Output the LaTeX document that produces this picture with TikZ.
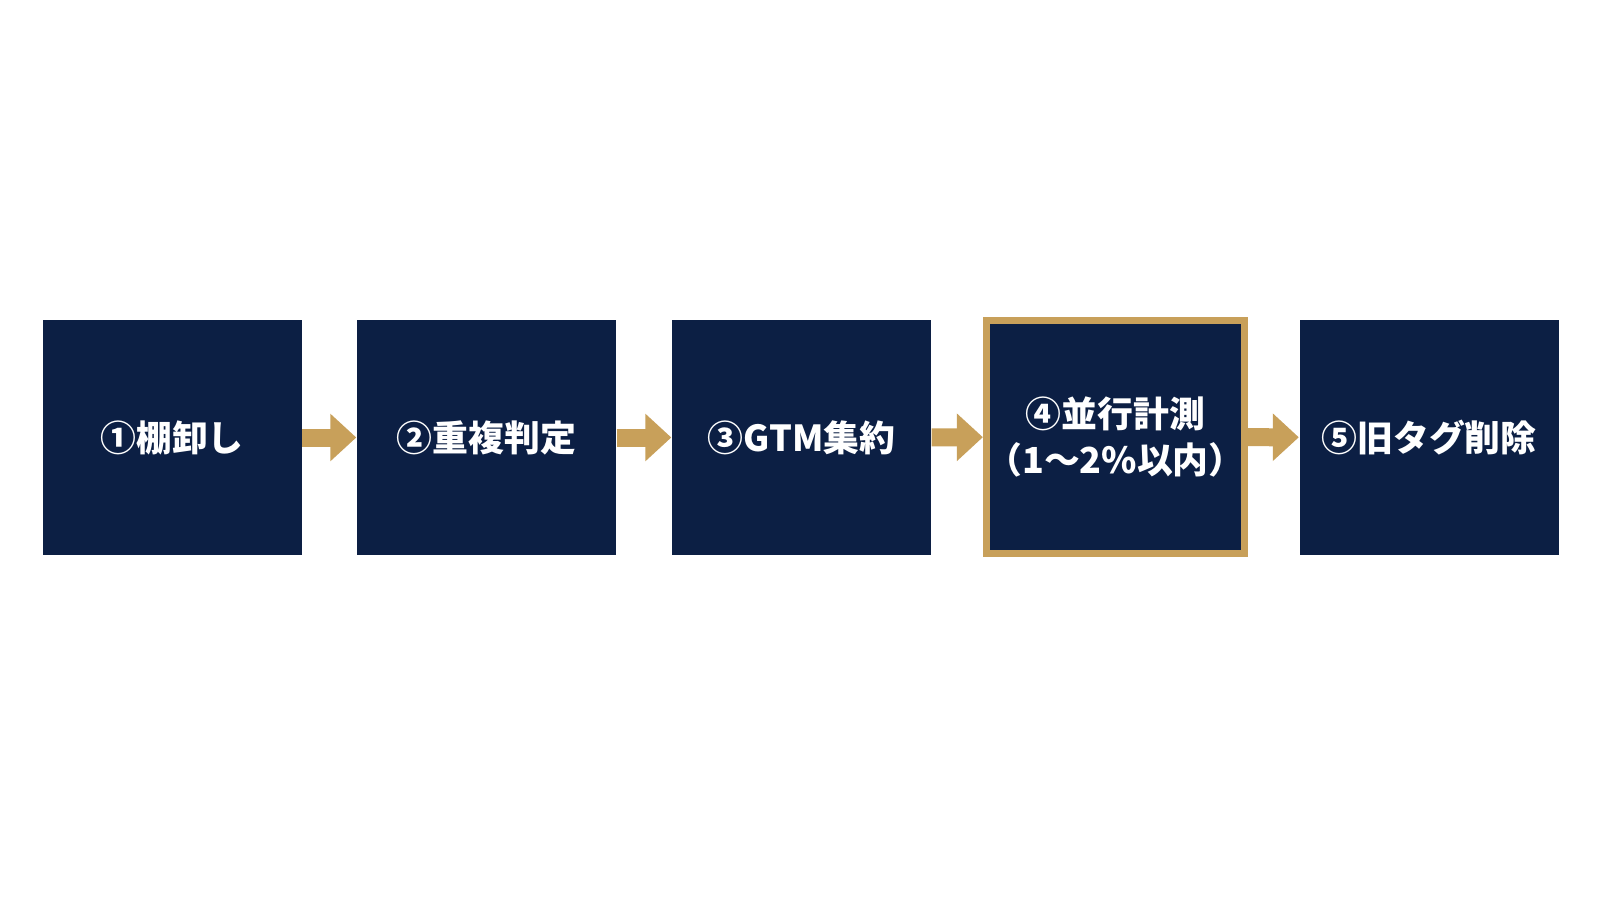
\documentclass[tikz,border=0pt]{standalone}
\usepackage{fontspec}
\setmainfont{Noto Sans CJK JP}
\usepackage{tikz}
\usetikzlibrary{arrows.meta}
\definecolor{navy}{HTML}{0C1F44}
\definecolor{gold}{HTML}{C8A05A}
\tikzset{
  stepbox/.style={fill=navy, text=white, minimum width=2.59cm, minimum height=2.35cm,
    inner sep=0pt, align=center, font=\fontsize{10.2pt}{13.1pt}\selectfont\bfseries},
  keybox/.style={stepbox, draw=gold, line width=0.07cm, minimum width=2.58cm, minimum height=2.33cm},
  flow/.style={gold, line width=0.18cm, -{Triangle[length=0.26cm,width=0.46cm]}}
}

\begin{document}
\begin{tikzpicture}
      \useasboundingbox (0,0) rectangle (16,9);
      \fill[white] (0,0) rectangle (16,9);
      \node[stepbox] (inv) at (1.72,4.625) {①棚卸し};
      \node[stepbox] (dup) at (4.865,4.625) {②重複判定};
      \node[stepbox] (gtm) at (8.015,4.625) {③GTM集約};
      \node[keybox] (par) at (11.155,4.63) {④並行計測\\（1～2\%以内）};
      \node[stepbox] (old) at (14.29,4.625) {⑤旧タグ削除};
      \draw[flow] (inv) -- (dup);
      \draw[flow] (dup) -- (gtm);
      \draw[flow] (gtm) -- (par);
      \draw[flow] (par) -- (old);
    \end{tikzpicture}
\end{document}
